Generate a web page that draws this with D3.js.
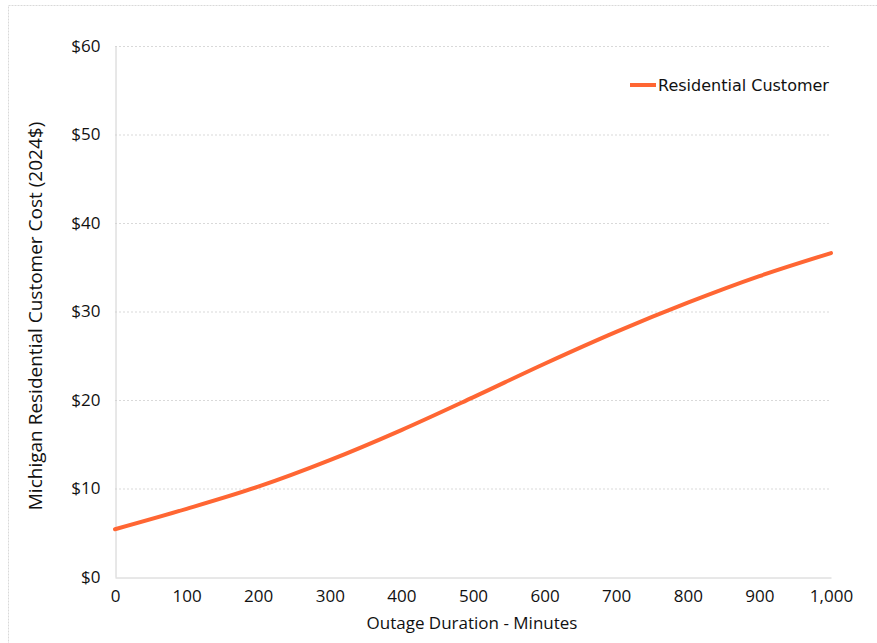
<!DOCTYPE html>
<html><head><meta charset="utf-8">
<script src="https://cdn.jsdelivr.net/npm/d3@7"></script>
<style>body{margin:0;background:#fff}svg{display:block}</style>
</head><body>
<svg id="c" width="877" height="643"></svg>
<script>
const minutes = [0,100,200,300,400,500,600,700,800,900,1000];
const cost = [5.4,7.7,10.2,13.2,16.6,20.3,24.1,27.7,31.0,34.0,36.6];
const yTicks = [0,10,20,30,40,50,60];
const xTicks = [0,100,200,300,400,500,600,700,800,900,1000];
const seriesName = "Residential Customer";
const xTitle = "Outage Duration - Minutes";
const yTitle = "Michigan Residential Customer Cost (2024$)";

const svg = d3.select("#c");
const m = {l:115, r:831, t:46, b:577};
const x = d3.scaleLinear().domain([0,1000]).range([m.l, m.r]);
const y = d3.scaleLinear().domain([0,60]).range([m.b, m.t]);

svg.append("rect").attr("x",8.5).attr("y",5.5).attr("width",880).attr("height",650)
  .attr("fill","none").attr("stroke","#d9d9d9").attr("stroke-dasharray","2,1");

svg.append("g").selectAll("line").data(yTicks.filter(d=>d>0)).join("line")
  .attr("x1",m.l).attr("x2",m.r).attr("y1",d=>y(d)+0.5).attr("y2",d=>y(d)+0.5)
  .attr("stroke","#d9d9d9").attr("stroke-dasharray","2,2");

const tf = "'Open Sans', sans-serif";
const yAxis = svg.append("g").attr("transform",`translate(${m.l+0.5},0)`)
  .call(d3.axisLeft(y).tickValues(yTicks).tickSize(0).tickPadding(15).tickFormat(d=>"$"+d));
yAxis.select(".domain").attr("stroke","#d0d0d0");
yAxis.selectAll("text").attr("font-family",tf).attr("font-size",17).attr("fill","#111");

const xAxis = svg.append("g").attr("transform",`translate(0,${m.b+0.5})`)
  .call(d3.axisBottom(x).tickValues(xTicks).tickSize(0).tickPadding(12).tickFormat(d3.format(",")));
xAxis.select(".domain").attr("stroke","#d0d0d0");
xAxis.selectAll("text").attr("font-family",tf).attr("font-size",17).attr("fill","#111");

svg.append("path").datum(minutes.map((d,i)=>[d,cost[i]]))
  .attr("fill","none").attr("stroke","#FF6633").attr("stroke-width",4).attr("stroke-linecap","round")
  .attr("d", d3.line().x(d=>x(d[0])).y(d=>y(d[1])).curve(d3.curveCatmullRom));

svg.append("text").attr("x",472).attr("y",629).attr("text-anchor","middle")
  .attr("font-family",tf).attr("font-size",17).attr("fill","#111").text(xTitle);
svg.append("text").attr("transform","translate(42,316) rotate(-90)").attr("text-anchor","middle")
  .attr("font-family",tf).attr("font-size",19).attr("fill","#111").text(yTitle);

svg.append("line").attr("x1",630).attr("x2",656).attr("y1",85).attr("y2",85)
  .attr("stroke","#FF6633").attr("stroke-width",4);
svg.append("text").attr("x",658).attr("y",91).attr("font-family","'DejaVu Sans', sans-serif")
  .attr("font-size",16).attr("fill","#111").text(seriesName);
</script>
</body></html>
